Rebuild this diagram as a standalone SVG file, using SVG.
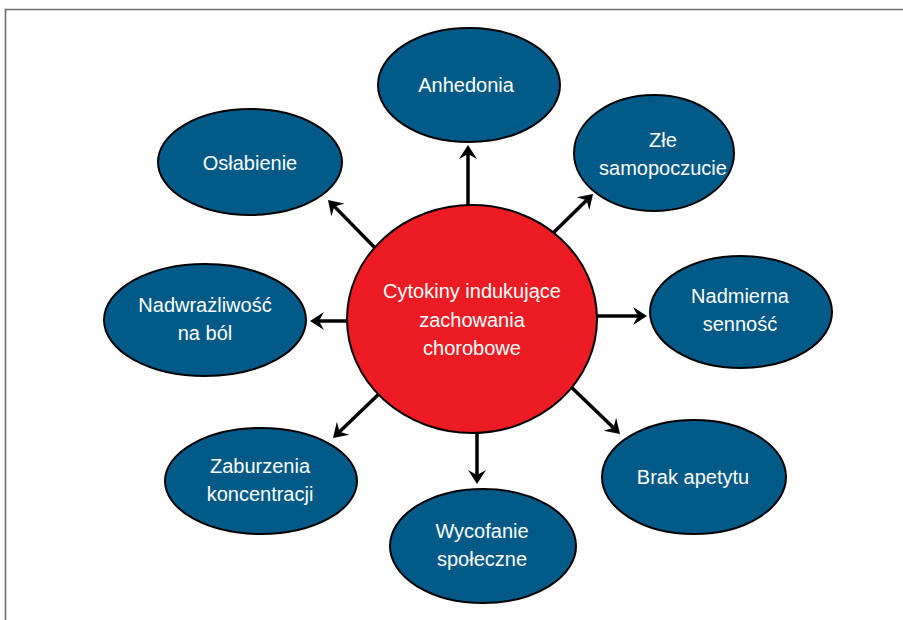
<svg xmlns="http://www.w3.org/2000/svg" width="903" height="620" viewBox="0 0 903 620">
<defs>
<style>
.frame{stroke:#6e6e6e;stroke-width:1.6;fill:none}
.node{fill:#005a87;stroke:#000;stroke-width:2}
.core{fill:#ed1c24;stroke:#000;stroke-width:2}
.t{font-family:"Liberation Sans",Arial,sans-serif;font-size:20px;fill:#fff;text-anchor:middle}
.c{stroke:#000;stroke-width:3.5;fill:none;marker-end:url(#ah)}
</style>
<marker id="ah" markerUnits="userSpaceOnUse" markerWidth="16" markerHeight="20" viewBox="0 -10 16 20" refX="5" refY="0" orient="auto">
<path d="M0,-9 L14,0 L0,9 L5,0 z" fill="#000"/>
</marker>
</defs>
<rect width="903" height="620" fill="#fff"/>
<path class="frame" d="M5.5,620 L5.5,9.5 L903,9.5"/>
<g id="connectors">
<line class="c" x1="468" y1="212" x2="468" y2="154"/>
<line class="c" x1="549" y1="237" x2="586.6" y2="200.3"/>
<line class="c" x1="378" y1="251" x2="334.3" y2="206.4"/>
<line class="c" x1="352" y1="321" x2="319" y2="321"/>
<line class="c" x1="592" y1="316" x2="638" y2="316"/>
<line class="c" x1="382" y1="391" x2="339.5" y2="431.8"/>
<line class="c" x1="477" y1="426" x2="477" y2="475"/>
<line class="c" x1="568" y1="384" x2="613.5" y2="427.8"/>
</g>
<g id="core">
<ellipse class="core" cx="472" cy="319" rx="125" ry="114"/>
<text class="t"><tspan x="472" y="298">Cytokiny indukujące</tspan><tspan x="472" y="327">zachowania</tspan><tspan x="472" y="355">chorobowe</tspan></text>
</g>
<g id="anhedonia">
<ellipse class="node" cx="469" cy="85" rx="91" ry="57"/>
<text class="t" x="466" y="92">Anhedonia</text>
</g>
<g id="zle-samopoczucie">
<ellipse class="node" cx="654" cy="153" rx="80" ry="58"/>
<text class="t"><tspan x="663" y="147">Złe</tspan><tspan x="663" y="175">samopoczucie</tspan></text>
</g>
<g id="oslabienie">
<ellipse class="node" cx="250" cy="162" rx="92" ry="53"/>
<text class="t" x="250" y="170">Osłabienie</text>
</g>
<g id="nadwrazliwosc">
<ellipse class="node" cx="205" cy="320" rx="101" ry="56"/>
<text class="t"><tspan x="205" y="312">Nadwrażliwość</tspan><tspan x="205" y="340">na ból</tspan></text>
</g>
<g id="nadmierna-sennosc">
<ellipse class="node" cx="741" cy="312" rx="91" ry="56"/>
<text class="t"><tspan x="740" y="303">Nadmierna</tspan><tspan x="740" y="331">senność</tspan></text>
</g>
<g id="zaburzenia-koncentracji">
<ellipse class="node" cx="261" cy="481" rx="96" ry="53"/>
<text class="t"><tspan x="260" y="473">Zaburzenia</tspan><tspan x="260" y="501">koncentracji</tspan></text>
</g>
<g id="brak-apetytu">
<ellipse class="node" cx="694" cy="477" rx="92" ry="57"/>
<text class="t" x="693" y="484">Brak apetytu</text>
</g>
<g id="wycofanie-spoleczne">
<ellipse class="node" cx="483" cy="546" rx="93" ry="57"/>
<text class="t"><tspan x="482" y="538">Wycofanie</tspan><tspan x="482" y="566">społeczne</tspan></text>
</g>
</svg>
